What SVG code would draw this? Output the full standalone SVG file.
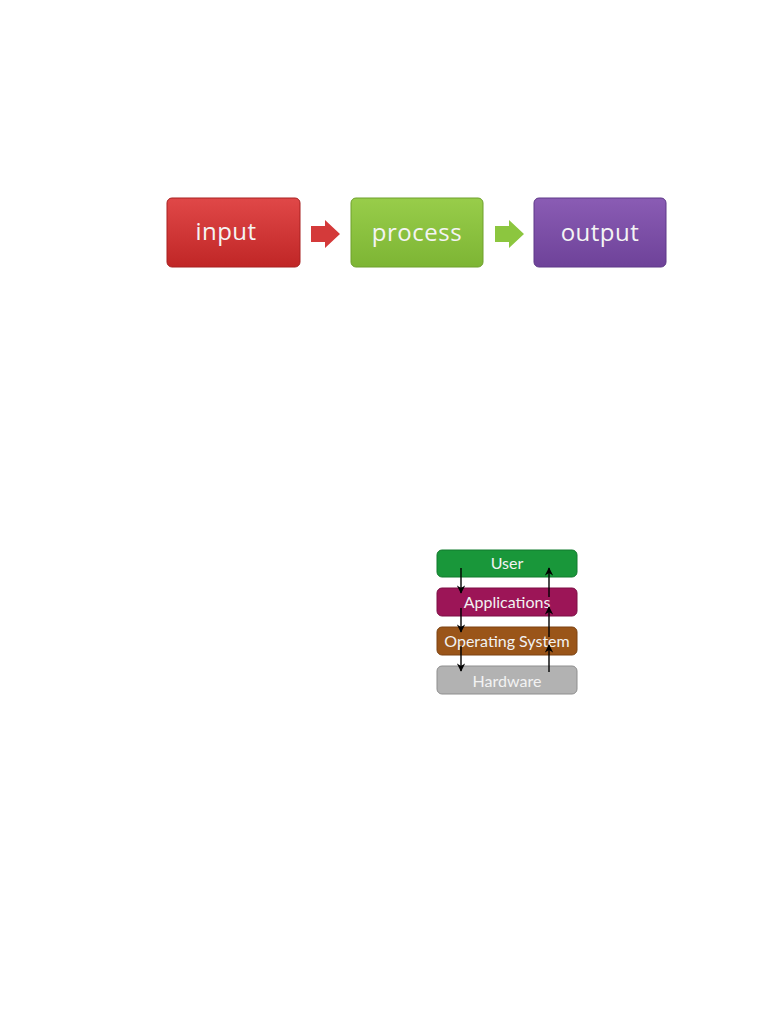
<svg xmlns="http://www.w3.org/2000/svg" width="768" height="1024" viewBox="0 0 768 1024">
<style>
.big{font-family:"Open Sans","Liberation Sans",sans-serif;font-size:24px;fill:#f4f4f4;text-anchor:middle;letter-spacing:0.5px}
.small{font-family:Lato,"Liberation Sans",sans-serif;font-size:16px;fill:#f2f2f2;text-anchor:middle}
.bx{stroke-width:1}
.ln{stroke:#000;stroke-width:1.4;fill:none}
</style>
<defs>
<linearGradient id="gr" x1="0" y1="0" x2="0" y2="1"><stop offset="0" stop-color="#e04848"/><stop offset="1" stop-color="#c02626"/></linearGradient>
<linearGradient id="gg" x1="0" y1="0" x2="0" y2="1"><stop offset="0" stop-color="#98cd4a"/><stop offset="1" stop-color="#7db534"/></linearGradient>
<linearGradient id="gp" x1="0" y1="0" x2="0" y2="1"><stop offset="0" stop-color="#8a5cb4"/><stop offset="1" stop-color="#6e4299"/></linearGradient>
<marker id="ah" viewBox="0 0 10 10" refX="9" refY="5" markerWidth="6" markerHeight="6" orient="auto"><path d="M0,0 L10,5 L0,10 L3,5 Z" fill="#000"/></marker>
</defs>
<rect width="768" height="1024" fill="#fff"/>
<g id="input"><rect x="167" y="198" width="133" height="69" rx="5" fill="url(#gr)" stroke="#a82020" class="bx"/><text class="big" x="226" y="240">input</text></g>
<g id="process"><rect x="351" y="198" width="132" height="69" rx="5" fill="url(#gg)" stroke="#6ea02c" class="bx"/><text class="big" x="417" y="241">process</text></g>
<g id="output"><rect x="534" y="198" width="132" height="69" rx="5" fill="url(#gp)" stroke="#5e3888" class="bx"/><text class="big" x="600" y="241">output</text></g>
<g id="flow-arrows">
<path d="M311,226 L325,226 L325,220 L340,234 L325,248 L325,242 L311,242 Z" fill="#d43a3a"/>
<path d="M495,226 L509,226 L509,220 L524,234 L509,248 L509,242 L495,242 Z" fill="#8cc63f"/>
</g>
<g id="user"><rect x="437" y="550" width="140" height="27" rx="5" fill="#19973a" stroke="#117a2c"/><text class="small" x="507" y="569">User</text></g>
<g id="applications"><rect x="437" y="588" width="140" height="28" rx="5" fill="#9c1557" stroke="#7c0f45"/><text class="small" x="507" y="608">Applications</text></g>
<g id="os"><rect x="437" y="627" width="140" height="28" rx="5" fill="#9a5519" stroke="#7c4312"/><text class="small" x="507" y="647">Operating System</text></g>
<g id="hardware"><rect x="437" y="666" width="140" height="28" rx="5" fill="#b2b2b2" stroke="#8e8e8e"/><text class="small" x="507" y="687" fill="#ececec">Hardware</text></g>
<g id="connectors">
<line class="ln" x1="461" y1="568" x2="461" y2="593" marker-end="url(#ah)"/>
<line class="ln" x1="461" y1="608" x2="461" y2="632" marker-end="url(#ah)"/>
<line class="ln" x1="461" y1="646" x2="461" y2="671" marker-end="url(#ah)"/>
<line class="ln" x1="549" y1="672" x2="549" y2="645" marker-end="url(#ah)"/>
<line class="ln" x1="549" y1="637" x2="549" y2="607" marker-end="url(#ah)"/>
<line class="ln" x1="549" y1="597" x2="549" y2="568" marker-end="url(#ah)"/>
</g>
</svg>
